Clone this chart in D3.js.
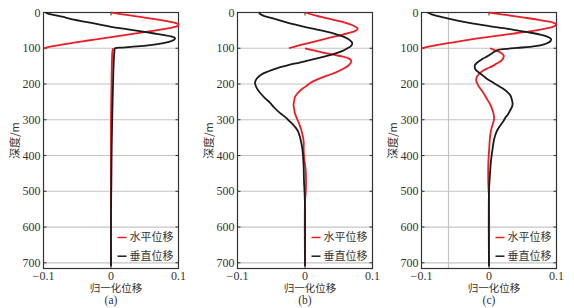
<!DOCTYPE html>
<html>
<head>
<meta charset="utf-8">
<script src="https://cdn.jsdelivr.net/npm/d3@7"></script>
<style>
  body { margin: 0; background: #fff; }
  svg { display: block; }
  .tick-label { font-family: "Liberation Serif", "DejaVu Serif", serif; font-size: 12px; fill: #333; }
  .cjk { font-family: "Noto Sans CJK SC", sans-serif; font-size: 11px; fill: #333; }
</style>
</head>
<body>
<svg id="chart" width="574" height="308"></svg>
<script>
// ---- data (depth in m, normalised displacement) ----
const depthTicks = [0, 100, 200, 300, 400, 500, 600, 700];
const xTicks = [-0.1, 0, 0.1];
const xTickLabels = ["\u22120.1", "0", "0.1"];
const panelLabels = ["(a)", "(b)", "(c)"];
const seriesNames = ["水平位移", "垂直位移"];
const seriesColors = ["#ec1c24", "#1a1a1a"];

// panel (a)
const aHoriz1 = [[0,0],[5,0.017],[10,0.035],[15,0.052],[20,0.07],[25,0.085],[29,0.095],[33,0.1],[37,0.099],[41,0.093],[46,0.08],[51,0.064],[57,0.042],[63,0.02],[69,0],[75,-0.022],[80,-0.04],[85,-0.057],[90,-0.073],[95,-0.088],[100,-0.1]];
const aHoriz2 = [[100,0.003],[110,0.002],[130,0.0015],[170,0.001],[230,0.0005],[300,0],[710,0]];
const aVert = [[0,-0.097],[4,-0.092],[9,-0.08],[14,-0.067],[20,-0.055],[26,-0.038],[33,-0.018],[40,0],[47,0.025],[53,0.045],[58,0.062],[63,0.079],[67,0.089],[72,0.095],[77,0.093],[82,0.086],[87,0.073],[91,0.058],[95,0.038],[98,0.018],[100,0.006],[110,0.005],[140,0.004],[200,0.003],[280,0.002],[380,0.001],[480,0.0005],[560,0],[710,0]];

// panel (b)
const bHoriz1 = [[0,0],[8,0.015],[16,0.032],[24,0.05],[32,0.065],[39,0.074],[45,0.078],[51,0.075],[58,0.064],[66,0.047],[75,0.027],[84,0.008],[92,-0.009],[100,-0.024]];
const bHoriz2 = [[100,0],[106,0.013],[112,0.026],[118,0.042],[123,0.055],[128,0.064],[133,0.068],[140,0.068],[147,0.065],[154,0.06],[161,0.053],[168,0.045],[175,0.035],[182,0.025],[189,0.016],[196,0.009],[203,0.004],[212,-0.003],[220,-0.008],[228,-0.012],[237,-0.015],[247,-0.016],[258,-0.017],[270,-0.016],[282,-0.015],[296,-0.012],[310,-0.009],[325,-0.006],[340,-0.004],[360,-0.002],[385,-0.002],[410,-0.001],[440,0.001],[470,0.0015],[500,0.0012],[530,0],[710,0]];
const bVert = [[0,-0.068],[5,-0.066],[10,-0.06],[18,-0.045],[26,-0.03],[34,-0.014],[42,0.004],[50,0.024],[58,0.041],[66,0.055],[74,0.064],[82,0.069],[88,0.07],[94,0.068],[100,0.063],[108,0.055],[116,0.043],[124,0.027],[132,0.01],[140,-0.008],[148,-0.026],[156,-0.042],[165,-0.055],[174,-0.065],[184,-0.071],[195,-0.074],[205,-0.073],[216,-0.07],[228,-0.065],[240,-0.059],[252,-0.052],[265,-0.046],[278,-0.039],[290,-0.031],[302,-0.024],[315,-0.017],[330,-0.011],[345,-0.008],[360,-0.006],[380,-0.004],[400,-0.003],[430,-0.002],[470,-0.0015],[510,-0.0005],[540,0],[710,0]];

// panel (c)
const cHoriz1 = [[0,0],[5,0.018],[10,0.037],[15,0.055],[20,0.072],[25,0.087],[29,0.096],[33,0.1],[37,0.098],[42,0.091],[47,0.078],[52,0.063],[58,0.04],[63,0.02],[68,0],[74,-0.022],[80,-0.042],[85,-0.058],[90,-0.074],[95,-0.088],[100,-0.1]];
const cHoriz2 = [[100,0.0015],[105,0.008],[110,0.015],[116,0.02],[122,0.022],[128,0.021],[135,0.018],[142,0.012],[150,0.005],[157,-0.003],[164,-0.01],[172,-0.015],[180,-0.018],[190,-0.019],[200,-0.017],[210,-0.014],[220,-0.01],[232,-0.006],[245,-0.002],[258,0.002],[272,0.005],[285,0.007],[298,0.0075],[310,0.006],[322,0.004],[340,0.002],[360,0.001],[390,0],[420,-0.001],[480,-0.001],[520,0],[710,0]];
const cVert = [[0,-0.091],[5,-0.085],[10,-0.076],[17,-0.06],[24,-0.043],[30,-0.027],[38,0],[44,0.022],[50,0.041],[56,0.06],[62,0.076],[68,0.087],[74,0.092],[80,0.091],[86,0.086],[92,0.076],[96,0.06],[99,0.042],[102,0.025],[105,0.013],[110,0.008],[116,0.003],[122,-0.002],[128,-0.008],[134,-0.013],[141,-0.018],[148,-0.021],[155,-0.021],[162,-0.019],[169,-0.014],[178,-0.008],[188,-0.001],[196,0.006],[203,0.012],[212,0.02],[222,0.027],[233,0.032],[245,0.034],[255,0.035],[264,0.034],[275,0.031],[285,0.028],[295,0.024],[305,0.021],[318,0.016],[330,0.012],[345,0.009],[360,0.007],[385,0.005],[413,0.003],[450,0.0015],[500,0],[710,0]];
const cGridX = [-0.06];

const panels = [
  { left: 43.5,  horiz: [aHoriz1, aHoriz2], vert: aVert, gridX: [] },
  { left: 237.5, horiz: [bHoriz1, bHoriz2], vert: bVert, gridX: [] },
  { left: 421.5, horiz: [cHoriz1, cHoriz2], vert: cVert, gridX: cGridX }
];

// ---- layout ----
const svg = d3.select("#chart");
const plotW = 135;
const plotTop = 12.5, plotBottom = 268.5;
const yScale = d3.scaleLinear().domain([0, 716]).range([plotTop, plotBottom]);
const axisColor = "#333", gridColor = "#c4c4c4";

panels.forEach((p, i) => {
  const xScale = d3.scaleLinear().domain([-0.1, 0.1]).range([p.left, p.left + plotW]);
  const right = p.left + plotW;
  const g = svg.append("g");

  // horizontal grid
  g.selectAll(".hgrid").data(depthTicks.slice(1)).join("line")
    .attr("x1", p.left).attr("x2", right)
    .attr("y1", d => yScale(d)).attr("y2", d => yScale(d))
    .attr("stroke", gridColor).attr("stroke-width", 1.2);

  // vertical grid (only some panels)
  g.selectAll(".vgrid").data(p.gridX).join("line")
    .attr("x1", d => xScale(d)).attr("x2", d => xScale(d))
    .attr("y1", plotTop).attr("y2", plotBottom)
    .attr("stroke", gridColor).attr("stroke-width", 1.2);

  // frame
  g.append("rect")
    .attr("x", p.left).attr("y", plotTop).attr("width", plotW).attr("height", plotBottom - plotTop)
    .attr("fill", "none").attr("stroke", axisColor).attr("stroke-width", 1.2);

  // inward ticks
  depthTicks.forEach(d => {
    g.append("line").attr("x1", p.left).attr("x2", p.left + 3)
      .attr("y1", yScale(d)).attr("y2", yScale(d)).attr("stroke", axisColor);
    g.append("line").attr("x1", right - 3).attr("x2", right)
      .attr("y1", yScale(d)).attr("y2", yScale(d)).attr("stroke", axisColor);
  });
  xTicks.forEach(t => {
    g.append("line").attr("x1", xScale(t)).attr("x2", xScale(t))
      .attr("y1", plotTop).attr("y2", plotTop + 3).attr("stroke", axisColor);
    g.append("line").attr("x1", xScale(t)).attr("x2", xScale(t))
      .attr("y1", plotBottom - 3).attr("y2", plotBottom).attr("stroke", axisColor);
  });

  // tick labels
  g.selectAll(".ylab").data(depthTicks).join("text")
    .attr("class", "tick-label")
    .attr("x", p.left - 3).attr("y", d => yScale(d)).attr("dy", "0.35em")
    .attr("text-anchor", "end").text(d => d);
  g.selectAll(".xlab").data(xTicks).join("text")
    .attr("class", "tick-label")
    .attr("x", d => xScale(d)).attr("y", 279.5)
    .attr("text-anchor", "middle").text((d, k) => xTickLabels[k]);

  // axis titles
  g.append("text").attr("class", "cjk")
    .attr("transform", `translate(${p.left - 25},${(plotTop + plotBottom) / 2}) rotate(-90)`)
    .attr("text-anchor", "middle").text("深度/m");
  g.append("text").attr("class", "cjk")
    .attr("x", xScale(0) + 5).attr("y", 291.5)
    .style("font-size", "10.5px")
    .attr("text-anchor", "middle").text("归一化位移");
  g.append("text").attr("class", "tick-label")
    .attr("x", xScale(0)).attr("y", 304)
    .style("font-size", "11.5px")
    .attr("text-anchor", "middle").text(panelLabels[i]);

  // curves
  const line = d3.line()
    .x(d => xScale(d[1])).y(d => yScale(d[0]))
    .curve(d3.curveCatmullRom.alpha(0.5));
  p.horiz.forEach(seg => {
    g.append("path").datum(seg).attr("d", line)
      .attr("fill", "none").attr("stroke", seriesColors[0]).attr("stroke-width", 1.8);
  });
  g.append("path").datum(p.vert).attr("d", line)
    .attr("fill", "none").attr("stroke", seriesColors[1]).attr("stroke-width", 1.8);

  // legend
  seriesNames.forEach((name, k) => {
    const ly = plotBottom - 31 + k * 18.7;
    g.append("line").attr("x1", right - 61).attr("x2", right - 52)
      .attr("y1", ly).attr("y2", ly)
      .attr("stroke", seriesColors[k]).attr("stroke-width", 1.5);
    g.append("text").attr("class", "cjk")
      .attr("x", right - 49).attr("y", ly).attr("dy", "0.35em")
      .text(name);
  });
});
</script>
</body>
</html>
